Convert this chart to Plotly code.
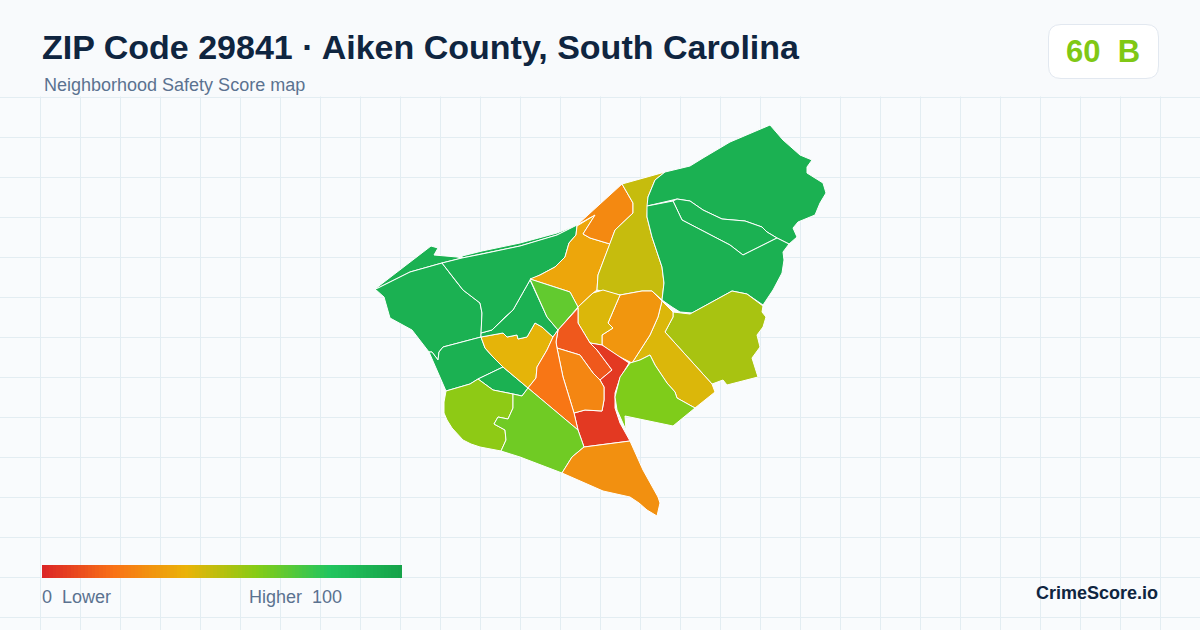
import plotly.graph_objects as go
from plotly.colors import sample_colorscale

# map outlines, in map units, y runs downward
TIP = [(375, 289), (431, 246), (438, 248), (434, 255), (457, 257), (462, 258), (442, 263), (410, 272), (378, 288)]
SLIVER = [(462, 256), (482, 251), (520, 243), (557, 233), (577, 225), (557, 235), (520, 246), (482, 254), (462, 258)]
WEST = [(375, 289), (378, 288), (410, 272), (442, 263), (455, 280), (463, 290), (480, 303), (482, 313), (481, 337),
        (443, 347), (439, 352), (438, 360), (432, 352), (429, 352), (412, 330), (390, 318), (384, 297)]
WEST_SOUTH = [(481, 337), (443, 347), (439, 352), (438, 360), (432, 352), (429, 352), (446, 391), (470, 384),
              (478, 379), (503, 367), (493, 357), (485, 348)]
WEST_SMALL = [(478, 379), (503, 367), (528, 388), (522, 396), (513, 394), (493, 390)]
WEST_YELLOW = [(481, 337), (503, 333), (507, 337), (517, 335), (518, 339), (527, 337), (535, 323), (542, 327),
               (553, 337), (547, 350), (537, 367), (536, 378), (528, 388), (503, 367), (493, 357), (485, 348)]
WEST_INNER = [(481, 337), (481, 333), (492, 330), (505, 317), (513, 310), (530, 280), (547, 317), (558, 330),
              (553, 337), (542, 327), (535, 323), (527, 337), (518, 339), (517, 335), (507, 337), (503, 333)]
WEST_MID = [(442, 263), (462, 258), (482, 254), (520, 246), (557, 235), (577, 225), (576, 235), (569, 243),
            (565, 257), (555, 267), (540, 275), (530, 280), (513, 310), (505, 317), (492, 330), (481, 333),
            (482, 313), (480, 303), (463, 290), (455, 280)]
AMBER = [(530, 279), (540, 275), (555, 267), (565, 257), (569, 243), (576, 235), (577, 226), (595, 215), (583, 234),
         (590, 238), (610, 244), (598, 275), (597, 290), (593, 293), (578, 307), (570, 292)]
LIME = [(530, 279), (570, 292), (578, 307), (558, 330), (547, 317)]
TOP_ORANGE = [(577, 225), (622, 184), (633, 203), (633, 213), (615, 230), (610, 244), (590, 238), (583, 234), (595, 215)]
OLIVE = [(622, 184), (665, 172), (655, 180), (648, 197), (647, 217), (652, 237), (662, 267), (664, 283), (662, 300),
         (652, 291), (642, 291), (620, 295), (607, 292), (597, 290), (598, 275), (610, 244), (615, 230), (633, 213),
         (633, 203)]
NORTHEAST = [(665, 172), (690, 166), (703, 158), (730, 142), (770, 125), (783, 140), (800, 155), (812, 160), (807, 167),
             (807, 173), (823, 183), (826, 193), (820, 203), (818, 208), (815, 215), (798, 222), (793, 228), (797, 237),
             (789, 244), (777, 238), (767, 232), (762, 227), (745, 221), (722, 219), (703, 210), (690, 201), (677, 199),
             (647, 206), (648, 197), (655, 180)]
LENS = [(673, 201), (680, 215), (682, 220), (705, 232), (730, 245), (743, 255), (777, 238), (767, 232), (762, 227),
        (745, 221), (722, 219), (703, 210), (690, 201), (677, 199)]
EAST = [(647, 206), (673, 201), (682, 220), (705, 232), (730, 245), (743, 255), (777, 238), (789, 244), (783, 252),
        (784, 260), (782, 273), (773, 290), (763, 305), (747, 294), (732, 291), (692, 313), (680, 312), (672, 307),
        (662, 300), (664, 283), (662, 267), (652, 237), (647, 217)]
EAST_OLIVE = [(673, 312), (690, 314), (732, 291), (747, 294), (763, 306), (762, 312), (766, 317), (763, 327), (757, 335),
              (760, 347), (752, 358), (758, 377), (727, 385), (723, 380), (712, 384), (665, 332), (673, 317)]
EAST_YELLOW = [(662, 301), (673, 312), (673, 317), (665, 332), (712, 384), (715, 392), (695, 408), (677, 398), (675, 392),
               (667, 383), (655, 365), (650, 355), (640, 360), (632, 363), (650, 335), (658, 317)]
MID_ORANGE = [(620, 295), (642, 291), (652, 291), (662, 301), (658, 317), (650, 335), (632, 363), (618, 356), (602, 345),
              (602, 335), (613, 328), (608, 323)]
MID_YELLOW = [(578, 307), (593, 293), (603, 290), (620, 295), (608, 323), (613, 328), (602, 335), (602, 345), (590, 343),
              (578, 323)]
RED_ORANGE = [(578, 308), (578, 323), (590, 343), (597, 350), (612, 370), (600, 380), (593, 373), (580, 355), (557, 348),
              (556, 342), (558, 330)]
RED = [(590, 343), (602, 345), (629, 363), (620, 378), (615, 393), (615, 408), (620, 423), (630, 441), (584, 447),
       (578, 430), (574, 413), (585, 410), (602, 411), (604, 400), (604, 387), (600, 380), (612, 370), (597, 350)]
INNER_ORANGE = [(557, 348), (580, 355), (593, 373), (600, 380), (604, 387), (604, 400), (602, 411), (585, 410), (574, 413),
                (563, 377)]
WEST_ORANGE = [(558, 330), (556, 342), (557, 348), (563, 377), (574, 413), (578, 430), (560, 415), (528, 388), (536, 378),
               (537, 367), (547, 350), (553, 337)]
RIGHT_LIME = [(630, 363), (640, 360), (650, 355), (655, 365), (667, 383), (675, 392), (677, 398), (695, 408), (673, 426),
              (625, 416), (626, 430), (617, 410), (615, 397), (620, 377)]
SW_LIME = [(446, 391), (470, 384), (478, 379), (493, 390), (513, 394), (513, 408), (508, 419), (498, 417), (494, 424),
           (505, 430), (506, 440), (501, 451), (480, 447), (471, 444), (463, 440), (457, 434), (452, 428), (447, 420),
           (444, 413), (444, 402)]
SOUTH_GREEN = [(513, 394), (522, 396), (528, 388), (560, 415), (578, 430), (584, 447), (572, 457), (562, 473), (540, 465),
               (520, 457), (501, 451), (506, 440), (505, 430), (494, 424), (498, 417), (508, 419), (513, 408)]
SOUTH_ORANGE = [(584, 447), (630, 441), (643, 470), (658, 497), (660, 503), (657, 516), (647, 510), (639, 503), (630, 497),
                (617, 494), (603, 491), (562, 473), (572, 457)]

zones = [TIP, SLIVER, WEST, WEST_SOUTH, WEST_SMALL, WEST_YELLOW, WEST_INNER, WEST_MID, AMBER, LIME, TOP_ORANGE, OLIVE,
         NORTHEAST, LENS, EAST, EAST_OLIVE, EAST_YELLOW, MID_ORANGE, MID_YELLOW, RED_ORANGE, RED, INNER_ORANGE,
         WEST_ORANGE, RIGHT_LIME, SW_LIME, SOUTH_GREEN, SOUTH_ORANGE]
scores = [92, 92, 92, 92, 92, 41, 92, 92, 36, 67, 27, 47,
          92, 92, 92, 53, 43, 31, 43, 13, 5, 26,
          21, 61, 58, 64, 29]

title = "ZIP Code 29841 · Aiken County, South Carolina"
subtitle = "Neighborhood Safety Score map"
overall_score = 60
grade = "B"
legend_steps = list(range(0, 101))

ramp = [[0, "#dc2626"], [0.2, "#f97316"], [0.4, "#eab308"], [0.6, "#84cc16"], [0.8, "#22c55e"], [1, "#16a34a"]]
FONT = "Liberation Sans, Arial, sans-serif"
BG = "#f8fafc"
PANEL = "#f9fbfd"
GRID = "#e3edf2"
INK = "#0f2540"
MUTED = "#5b7290"

fig = go.Figure()

for outline, score in zip(zones, scores):
    xs = [p[0] for p in outline] + [outline[0][0]]
    ys = [p[1] for p in outline] + [outline[0][1]]
    color = sample_colorscale(ramp, score / 100)[0]
    fig.add_trace(go.Scatter(x=xs, y=ys, mode="lines", fill="toself", fillcolor=color,
                             line=dict(color="white", width=1), hoverinfo="skip", showlegend=False))

# colour ramp under the map
fig.add_trace(go.Heatmap(z=[legend_steps], x0=43.78, dx=3.564, y0=571.5, dy=13, zmin=0, zmax=100,
                         colorscale=ramp, showscale=False, hoverinfo="skip"))

# header band hides the grid, badge sits on top of it
fig.add_shape(type="rect", x0=0, x1=1200, y0=-1, y1=96.5, fillcolor=BG, line_width=0, layer="between")
fig.add_shape(type="path", layer="between", fillcolor="white", line=dict(color="#e2e8f0", width=1),
              path="M 1061 24.5 L 1146 24.5 Q 1158.5 24.5 1158.5 37 L 1158.5 66 Q 1158.5 78.5 1146 78.5 "
                   "L 1061 78.5 Q 1048.5 78.5 1048.5 66 L 1048.5 37 Q 1048.5 24.5 1061 24.5 Z")


def add_text(text, x, y, size, color, bold=False, anchor="left"):
    fig.add_annotation(x=x, y=y, text="<b>%s</b>" % text if bold else text, showarrow=False, xanchor=anchor,
                       yanchor="middle", xshift=0, font=dict(family=FONT, size=size, color=color), borderpad=0)


add_text(title, 41, 47, 34, INK, bold=True)
add_text(subtitle, 43, 85, 18, MUTED)
add_text("%d  %s" % (overall_score, grade), 1103, 51, 31, "#80c815", bold=True, anchor="center")
add_text("0  Lower", 41, 597, 18, MUTED)
add_text("Higher  100", 343, 597, 18, MUTED, anchor="right")
add_text("CrimeScore.io", 1159, 593, 18, INK, bold=True, anchor="right")

fig.update_xaxes(range=[0, 1200], tick0=0, dtick=40, showgrid=True, gridcolor=GRID, gridwidth=1,
                 zeroline=False, showticklabels=False, ticks="", fixedrange=True)
fig.update_yaxes(range=[630, 0], tick0=17, dtick=40, showgrid=True, gridcolor=GRID, gridwidth=1,
                 zeroline=False, showticklabels=False, ticks="", fixedrange=True)
fig.update_layout(width=1200, height=630, margin=dict(l=0, r=0, t=0, b=0), paper_bgcolor=BG, plot_bgcolor=PANEL,
                  showlegend=False, hovermode=False)

# the page's default body margin would push the chart off the window
fig.write_html("out.html", config={"displayModeBar": False},
               post_script="document.body.style.margin='0';document.body.style.overflow='hidden';")
